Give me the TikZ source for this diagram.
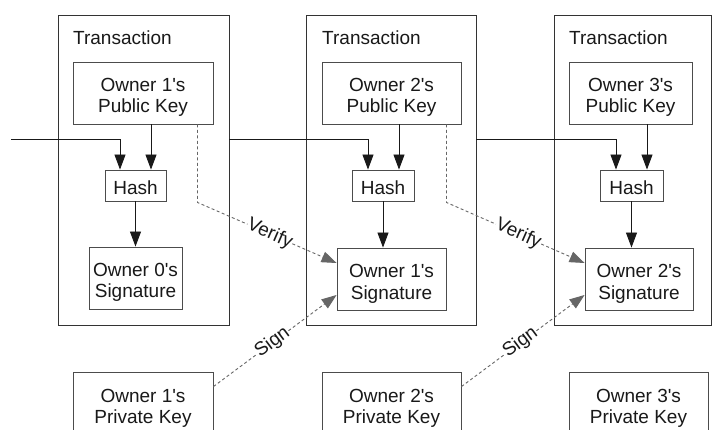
\documentclass[tikz,border=0pt]{standalone}
\usepackage{fontspec}
\setmainfont{Liberation Sans}
\usetikzlibrary{arrows.meta}
\newcommand{\ap}{\textquotesingle}
\tikzset{
  txt/.style={font=\fontsize{19}{21}\selectfont, text=black!90},
  box/.style={txt, draw=black!70, line width=0.9pt, rectangle, inner sep=0pt, align=center, text height=40pt, text depth=0pt},
  hbox/.style={txt, draw=black!70, line width=0.9pt, rectangle, inner sep=0pt, text height=19pt, text depth=0pt},
  tbox/.style={draw=black!80, line width=0.9pt, rectangle, inner sep=0pt},
  arr/.style={draw=black!90, line width=0.9pt, -{Triangle[length=15pt,width=11pt]}},
  dsh/.style={draw=black!60, line width=0.9pt, dash pattern=on 3pt off 2.5pt, -{Triangle[length=15pt,width=11pt]}},
  lbl/.style={txt, sloped, fill=white, inner sep=0.5pt}
}
\begin{document}
\begin{tikzpicture}[x=1pt,y=-1pt]
\useasboundingbox (0,0) rectangle (712,430);
\clip (0,0) rectangle (712,430);
\fill[white] (0,0) rectangle (712,430);

% transaction frames
\node[tbox, minimum width=171pt, minimum height=310pt] (T1) at (143.5,170) {};
\node[tbox, minimum width=170pt, minimum height=310pt] (T2) at (391,170) {};
\node[tbox, minimum width=157pt, minimum height=310pt] (T3) at (632.5,170) {};
\node[txt, anchor=west, inner sep=0pt] (L1) at (73,37.5) {Transaction};
\node[txt, anchor=west, inner sep=0pt] (L2) at (322,37.5) {Transaction};
\node[txt, anchor=west, inner sep=0pt] (L3) at (569,37.5) {Transaction};

% public keys
\node[box, minimum width=140pt, minimum height=62pt] (PK1) at (143,93) {Owner 1\ap s\\Public Key};
\node[box, minimum width=139pt, minimum height=62pt] (PK2) at (391.5,93) {Owner 2\ap s\\Public Key};
\node[box, minimum width=123pt, minimum height=62pt] (PK3) at (630.5,93) {Owner 3\ap s\\Public Key};

% hashes
\node[hbox, minimum width=61pt, minimum height=31pt] (H1) at (135.5,185.5) {Hash};
\node[hbox, minimum width=62pt, minimum height=31pt] (H2) at (383,185.5) {Hash};
\node[hbox, minimum width=63pt, minimum height=31pt] (H3) at (631.5,185.5) {Hash};

% signatures
\node[box, minimum width=93pt, minimum height=62pt] (S1) at (135.5,278) {Owner 0\ap s\\Signature};
\node[box, minimum width=109pt, minimum height=62pt] (S2) at (391.5,279) {Owner 1\ap s\\Signature};
\node[box, minimum width=108pt, minimum height=62pt] (S3) at (639,279) {Owner 2\ap s\\Signature};

% private keys
\node[box, minimum width=140pt, minimum height=62pt] (P1) at (143,403) {Owner 1\ap s\\Private Key};
\node[box, minimum width=139pt, minimum height=62pt] (P2) at (391.5,403) {Owner 2\ap s\\Private Key};
\node[box, minimum width=139pt, minimum height=62pt] (P3) at (638.5,403) {Owner 3\ap s\\Private Key};

% helper coordinates
\coordinate (in0) at (11,139);
\coordinate (a1) at ([xshift=15.5pt]H1.north);
\coordinate (a2) at ([xshift=16pt]H2.north);
\coordinate (a3) at ([xshift=15.5pt]H3.north);
\coordinate (b1) at ([xshift=-15.5pt]H1.north);
\coordinate (b2) at ([xshift=-15pt]H2.north);
\coordinate (b3) at ([xshift=-15.5pt]H3.north);

% public key -> hash
\draw[arr] (PK1.south -| a1) -- (a1);
\draw[arr] (PK2.south -| a2) -- (a2);
\draw[arr] (PK3.south -| a3) -- (a3);

% previous transaction -> hash
\draw[arr] (in0) -| (b1);
\draw[arr] (T1.east |- in0) -| (b2);
\draw[arr] (T2.east |- in0) -| (b3);

% hash -> signature
\draw[arr] (H1.south) -- (H1.south |- S1.north);
\draw[arr] (H2.south) -- (H2.south |- S2.north);
\draw[arr] (H3.south) -- (H3.south |- S3.north);

% verify
\draw[dsh] ([xshift=-16pt]PK1.south east) -- ++(0,78) -- node[lbl, pos=0.52] {Verify} ([yshift=16pt]S2.west);
\draw[dsh] ([xshift=-15pt]PK2.south east) -- ++(0,78) -- node[lbl, pos=0.52] {Verify} ([yshift=16pt]S3.west);

% sign
\draw[dsh] ([yshift=-15pt]P1.north east) -- node[lbl, pos=0.48] {Sign} ([yshift=-16pt]S2.west);
\draw[dsh] ([yshift=-15pt]P2.north east) -- node[lbl, pos=0.48] {Sign} ([yshift=-16pt]S3.west);
\end{tikzpicture}
\end{document}
